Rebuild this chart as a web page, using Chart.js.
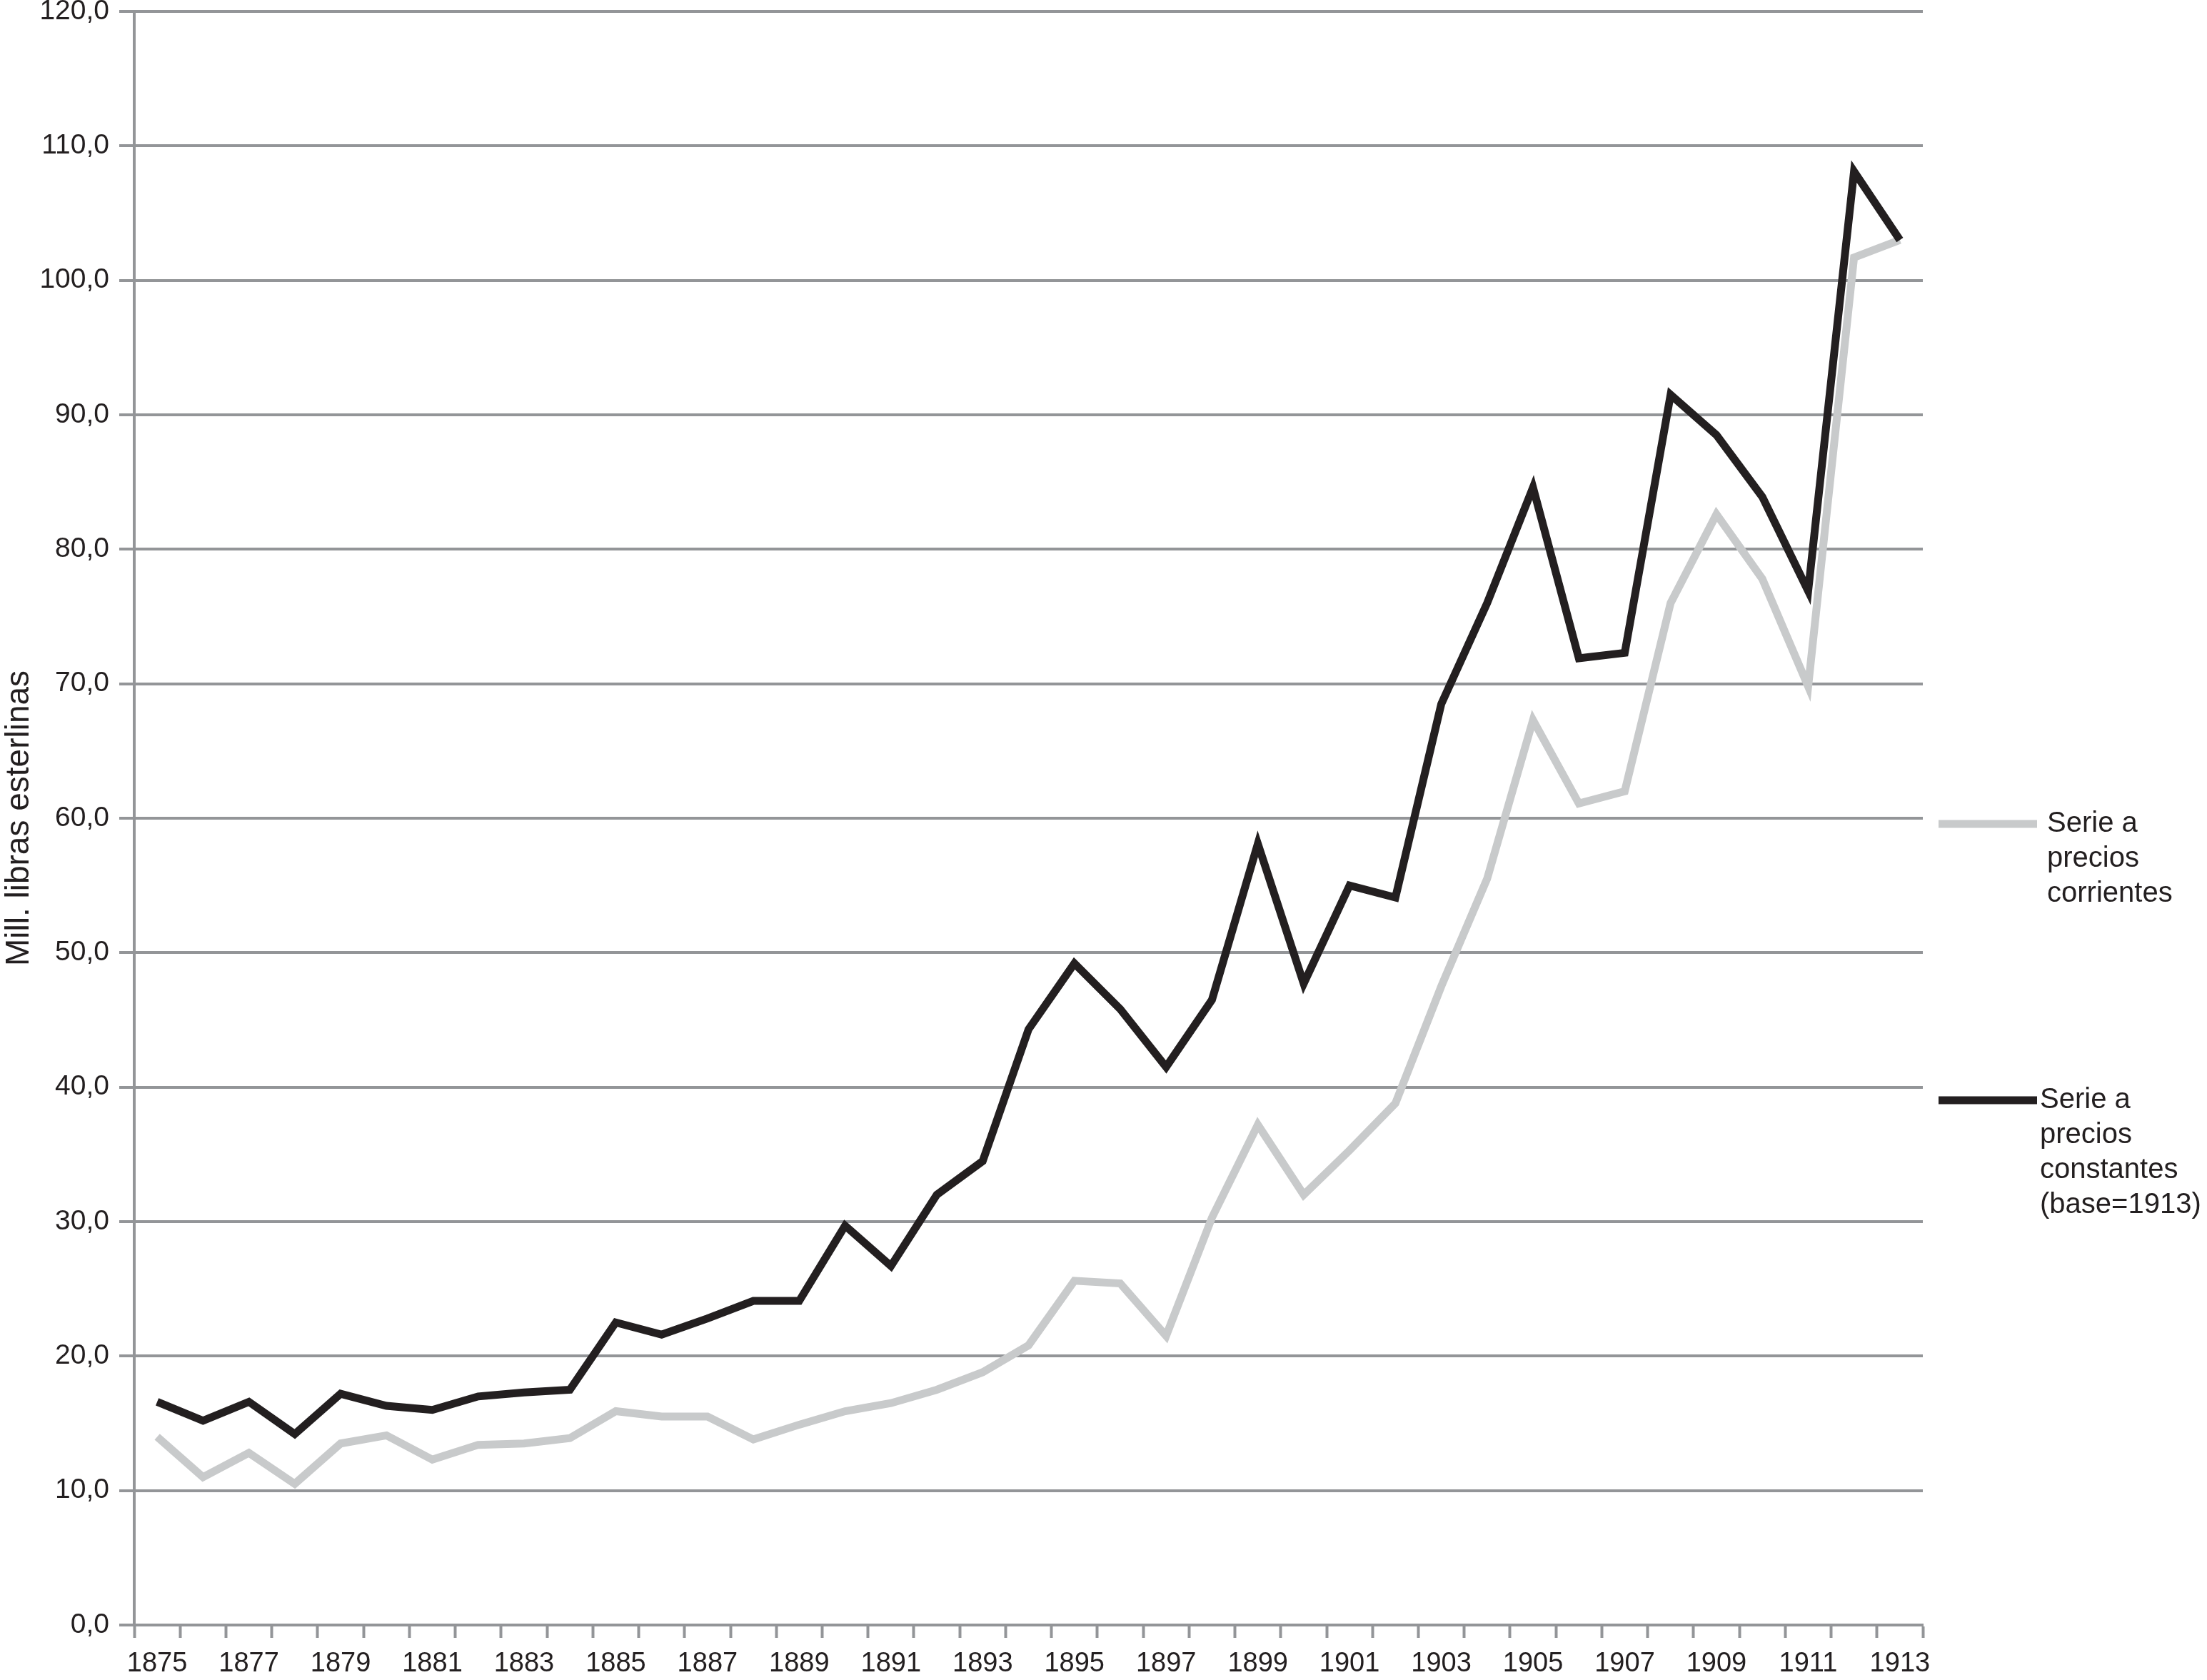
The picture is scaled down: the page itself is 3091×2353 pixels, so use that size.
<!DOCTYPE html>
<html>
<head>
<meta charset="utf-8">
<title>Serie a precios corrientes y constantes</title>
<script src="https://cdn.jsdelivr.net/npm/chart.js@4.4.1/dist/chart.umd.min.js"></script>
<style>
  html, body { margin: 0; padding: 0; background: #fff; }
  #wrap { width: 3091px; height: 2353px; }
</style>
</head>
<body>
<div id="wrap"><canvas id="chart" width="3091" height="2353"></canvas></div>
<script>
// Values (mill. libras esterlinas)
const years = ['1875', '1876', '1877', '1878', '1879', '1880', '1881', '1882', '1883', '1884',
  '1885', '1886', '1887', '1888', '1889', '1890', '1891', '1892', '1893', '1894',
  '1895', '1896', '1897', '1898', '1899', '1900', '1901', '1902', '1903', '1904',
  '1905', '1906', '1907', '1908', '1909', '1910', '1911', '1912', '1913'];

const currentPrices = [14.0, 11.0, 12.8, 10.5, 13.5, 14.1, 12.3, 13.4, 13.5, 13.9,
  15.9, 15.5, 15.5, 13.8, 14.9, 15.9, 16.5, 17.5, 18.8, 20.8,
  25.6, 25.4, 21.5, 30.3, 37.2, 32.0, 35.3, 38.8, 47.5, 55.5,
  67.3, 61.1, 62.0, 76.0, 82.6, 77.8, 69.8, 101.7, 103.0];

const constantPrices = [16.6, 15.2, 16.6, 14.2, 17.2, 16.3, 16.0, 17.0, 17.3, 17.5,
  22.5, 21.6, 22.8, 24.1, 24.1, 29.7, 26.7, 32.0, 34.5, 44.3,
  49.2, 45.8, 41.5, 46.5, 58.1, 47.7, 55.0, 54.1, 68.5, 76.0,
  84.6, 71.9, 72.3, 91.5, 88.5, 83.9, 76.9, 108.1, 103.0];

const legendCurrent = ['Serie a', 'precios', 'corrientes'];
const legendConstant = ['Serie a', 'precios', 'constantes', '(base=1913)'];

const GRID = '#939598';
const INK = '#231f20';
const LIGHT = '#c8cacb';
const FONT = "'Liberation Sans', Arial, Helvetica, sans-serif";

// Legend on the right: short line + wrapped text, drawn by hand
const sideLegend = {
  id: 'sideLegend',
  afterDraw(chart) {
    const ctx = chart.ctx;
    const area = chart.chartArea;
    const entries = [
      { lines: legendCurrent, color: LIGHT, y: area.top + 1138, textX: area.right + 174 },
      { lines: legendConstant, color: INK, y: area.top + 1525, textX: area.right + 164 }
    ];
    ctx.save();
    entries.forEach(e => {
      ctx.strokeStyle = e.color;
      ctx.lineWidth = 11;
      ctx.lineCap = 'butt';
      ctx.beginPath();
      ctx.moveTo(area.right + 22, e.y);
      ctx.lineTo(area.right + 160, e.y);
      ctx.stroke();

      ctx.fillStyle = INK;
      ctx.font = '40px ' + FONT;
      ctx.textAlign = 'left';
      ctx.textBaseline = 'middle';
      e.lines.forEach((t, i) => ctx.fillText(t, e.textX, e.y + i * 49));
    });
    ctx.restore();
  }
};

const ctx = document.getElementById('chart').getContext('2d');
const chart = new Chart(ctx, {
  type: 'line',
  data: {
    labels: years,
    datasets: [{
      label: 'Serie a precios constantes (base=1913)',
      data: constantPrices,
      borderColor: INK,
      borderWidth: 11,
      borderJoinStyle: 'miter',
      pointRadius: 0,
      tension: 0,
      order: 0
    }, {
      label: 'Serie a precios corrientes',
      data: currentPrices,
      borderColor: LIGHT,
      borderWidth: 11,
      borderJoinStyle: 'miter',
      pointRadius: 0,
      tension: 0,
      order: 1
    }]
  },
  options: {
    responsive: false,
    animation: false,
    devicePixelRatio: 1,
    layout: {
      padding: { top: 16, right: 398, bottom: 0, left: 0 }
    },
    plugins: {
      legend: { display: false },
      tooltip: { enabled: false }
    },
    scales: {
      x: {
        offset: true,
        grid: {
          offset: true,
          drawOnChartArea: false,
          drawTicks: true,
          tickLength: 18,
          tickWidth: 4,
          tickColor: GRID
        },
        border: { display: true, color: GRID, width: 4 },
        ticks: {
          autoSkip: false,
          maxRotation: 0,
          minRotation: 0,
          padding: 14,
          color: INK,
          font: { family: FONT, size: 38 },
          callback: function (value, index) {
            return index % 2 === 0 ? this.getLabelForValue(value) : '';
          }
        },
        afterFit: scale => { scale.height = 77; }
      },
      y: {
        min: 0,
        max: 120,
        grid: {
          color: GRID,
          lineWidth: 4,
          drawTicks: true,
          tickLength: 21
        },
        border: { display: true, color: GRID, width: 4 },
        ticks: {
          stepSize: 10,
          padding: 14,
          color: INK,
          font: { family: FONT, size: 39 },
          callback: value => value.toFixed(1).replace('.', ',')
        },
        title: {
          display: true,
          text: 'Mill. libras esterlinas',
          color: INK,
          font: { family: FONT, size: 46 },
          padding: { top: 0, bottom: 0 }
        },
        afterFit: scale => {
          scale.width = 188;
          scale.paddingTop = 0;
        }
      }
    }
  },
  plugins: [sideLegend]
});
</script>
</body>
</html>
